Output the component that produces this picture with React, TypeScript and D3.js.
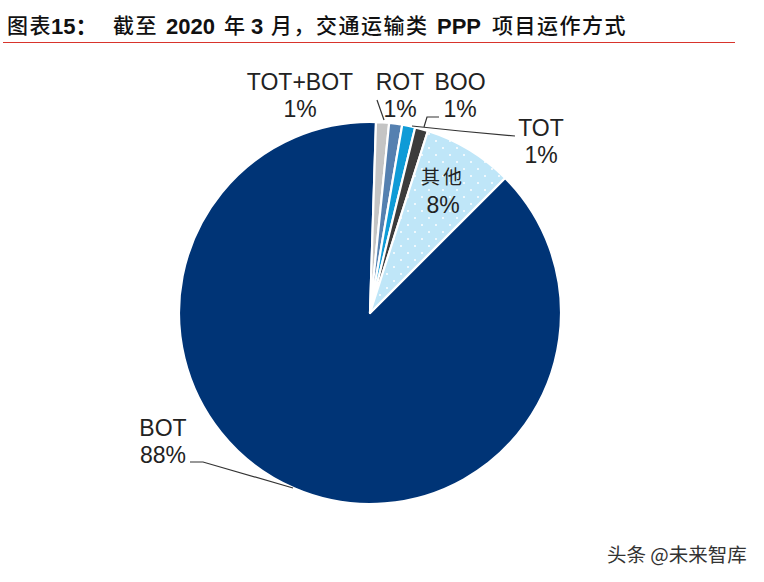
import React from "react";
import * as d3 from "d3";

const categories = ["BOT", "TOT+BOT", "ROT", "BOO", "TOT", "其他"];
const values = [88, 1.1, 1.1, 1.1, 1.1, 7.6];
const percentLabels = ["88%", "1%", "1%", "1%", "1%", "8%"];
const colors = ["#003476", "#c4c4c4", "#5580b0", "#0f9bd7", "#3c3c3c", "url(#dots)"];
const titleSegments: [string, number, boolean][] = [
  ["图表", 7, false], ["15：", 51, true], ["截至", 113, false], ["2020", 166, true],
  ["年", 224, false], ["3", 251, true], ["月，", 271, false], ["交通运输类", 316, false],
  ["PPP", 437, true], ["项目运作方式", 492, false],
];
const watermark = "头条 @未来智库";

const W = 764, H = 582, cx = 370, cy = 313, R = 191;
const sans = "'Liberation Sans', Arial, sans-serif";
const cjk = "'Noto Sans CJK SC', sans-serif";

const labelPos: Record<string, [number, number, number]> = {
  BOT: [163, 436, 463],
  其他: [443, 184, 213],
  TOT: [541, 136, 163],
  BOO: [460, 90, 117],
  ROT: [400, 90, 117],
  "TOT+BOT": [300, 90, 117],
};

const leaders: Record<string, [number, number][]> = {
  BOT: [[190, 462], [203, 462], [293, 488]],
  TOT: [[412, 126], [460, 131], [515, 136]],
  BOO: [[424, 127], [427, 117], [439, 117]],
  "TOT+BOT": [[377, 100], [384, 120]],
};

export default function App() {
  const start = Math.PI / 4;
  const pie = d3.pie<number>().sort(null).startAngle(start).endAngle(start + 2 * Math.PI);
  const arcs = pie(values);
  const arc = d3.arc<d3.PieArcDatum<number>>().innerRadius(0).outerRadius(R);
  const line = d3.line();
  return (
    <svg width={W} height={H} viewBox={`0 0 ${W} ${H}`} style={{ position: "absolute", left: 0, top: 0, background: "#fff" }}>
      <defs>
        <pattern id="dots" width="14" height="14" patternUnits="userSpaceOnUse">
          <rect width="14" height="14" fill="#bfe6f8" />
          <circle cx="3" cy="3" r="1" fill="#fff" />
          <circle cx="10" cy="10" r="1" fill="#fff" />
        </pattern>
      </defs>
      {titleSegments.map(([s, x, latin]) => (
        <text key={s} x={x} y={latin ? 34 : 33} fontFamily={latin ? `${sans.split(",")[0]}, ${cjk}` : cjk} fontWeight={latin ? 700 : 500}
          fontSize={latin ? 22 : 21} letterSpacing={latin ? 0 : 1.5} fill="#111">{s}</text>
      ))}
      <line x1={3} x2={735} y1={42.5} y2={42.5} stroke="#d8342c" strokeWidth={1.2} />
      <g transform={`translate(${cx},${cy})`}>
        {arcs.map((a, i) => (
          <path key={categories[i]} d={arc(a) ?? ""} fill={colors[i]} stroke="#fff" strokeWidth={2.2} strokeLinejoin="round" />
        ))}
      </g>
      {categories.map((c) =>
        leaders[c] ? <path key={c} d={line(leaders[c]) ?? ""} fill="none" stroke="#333" strokeWidth={1.2} /> : null
      )}
      {categories.map((c, i) => {
        const [x, y1, y2] = labelPos[c];
        const zh = c === "其他";
        return (
          <g key={c} textAnchor="middle" fill="#222" fontFamily={sans} fontSize={23}>
            <text x={x} y={y1} fontFamily={zh ? cjk : sans} fontSize={zh ? 19 : 23} letterSpacing={zh ? 3 : 0}>{c}</text>
            <text x={x} y={y2}>{percentLabels[i]}</text>
          </g>
        );
      })}
      <text x={607} y={562} fontFamily={cjk} fontSize={19.5} fill="#333">{watermark}</text>
    </svg>
  );
}
